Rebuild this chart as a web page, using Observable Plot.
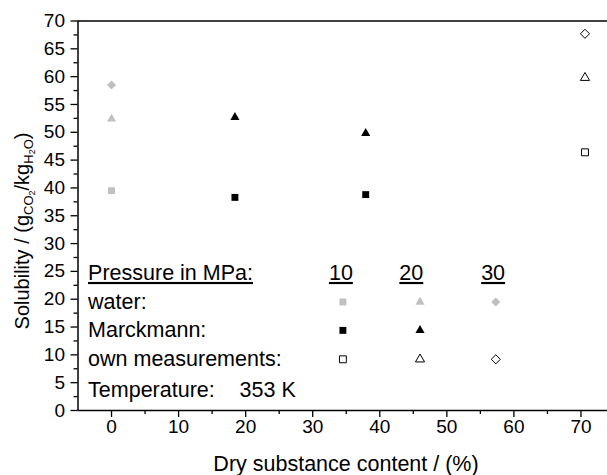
<!DOCTYPE html>
<html><head><meta charset="utf-8">
<script src="https://cdn.jsdelivr.net/npm/d3@7"></script>
<script src="https://cdn.jsdelivr.net/npm/@observablehq/plot@0.6"></script>
<style>
body{margin:0;background:#fff}
svg{font-family:"Liberation Sans",Arial,sans-serif}
</style>
</head><body><div id="chart"></div>
<script>
// ---- data ----
const pressures = [10, 20, 30];
const pressureSymbols = ["square", "triangle", "diamond2"];
const waterX = [0, 0, 0];
const waterP = [10, 20, 30];
const waterY = [39.5, 52.4, 58.5];
const marckmannX = [18.4, 37.9, 18.4, 37.9];
const marckmannP = [10, 10, 20, 20];
const marckmannY = [38.3, 38.8, 52.7, 49.8];
const ownX = [70.6, 70.6, 70.6];
const ownP = [10, 20, 30];
const ownY = [46.4, 59.8, 67.7];

const xMajor = [0, 10, 20, 30, 40, 50, 60, 70];
const xMinor = [5, 15, 25, 35, 45, 55, 65];
const yMajor = [0, 5, 10, 15, 20, 25, 30, 35, 40, 45, 50, 55, 60, 65, 70];
const yMinor = [2.5, 7.5, 12.5, 17.5, 22.5, 27.5, 32.5, 37.5, 42.5, 47.5, 52.5, 57.5, 62.5, 67.5];

// legend (inside plot, in data units)
const legendHeader = "Pressure in MPa:";
const legendHeaderY = 24.7;
const legendLabelX = -3.5;
const legendColHeads = ["10", "20", "30"];
const legendColHeadX = [34.2, 44.7, 56.9];
const legendColX = [34.5, 46, 57.3];
const legendRows = ["water:", "Marckmann:", "own measurements:"];
const legendRowY = [19.5, 14.4, 9.2];
const legendRowPressures = [[10, 20, 30], [10, 20], [10, 20, 30]];
const tempLabel = "Temperature:";
const tempValue = "353 K";
const tempY = 3.7;
const tempValueX = 19.1;

const xLabel = "Dry substance content / (%)";

// ---- styles ----
const symR = {square: 3.9, triangle: 3.4, diamond2: 4.1};
const seriesStyle = [
  {fill: "#c0c0c0", stroke: "none", strokeWidth: 0},
  {fill: "black", stroke: "none", strokeWidth: 0},
  {fill: "white", stroke: "black", strokeWidth: 1}
];

function seriesDots(xs, ys, ps, style) {
  return pressures.map((p, k) => {
    const data = xs.map((x, i) => ({x, y: ys[i], p: ps[i]})).filter(d => d.p === p);
    return Plot.dot(data, {x: "x", y: "y", symbol: pressureSymbols[k], r: symR[pressureSymbols[k]], ...style});
  });
}

function legendDots() {
  const marks = [];
  legendRows.forEach((row, j) => {
    pressures.forEach((p, k) => {
      if (!legendRowPressures[j].includes(p)) return;
      marks.push(Plot.dot([{x: legendColX[k], y: legendRowY[j]}], {x: "x", y: "y", symbol: pressureSymbols[k], r: symR[pressureSymbols[k]], ...seriesStyle[j]}));
    });
  });
  return marks;
}

const textOpts = {fontSize: 21.5, fill: "black"};

const chart = Plot.plot({
  width: 607,
  height: 475,
  marginLeft: 77.5,
  marginRight: 0,
  marginTop: 20.5,
  marginBottom: 65,
  x: {domain: [-5, 75], range: [77.5, 614]},
  y: {domain: [0, 70], range: [410, 20.5]},
  style: {fontFamily: "'Liberation Sans', Arial, sans-serif", fontSize: "19px", color: "black", background: "white", overflow: "hidden"},
  marks: [
    Plot.axisX(xMajor, {tickSize: 7, tickPadding: 2, strokeWidth: 1.3, label: null}),
    Plot.axisX(xMinor, {tickSize: 4, tickFormat: () => "", strokeWidth: 1.3, label: null}),
    Plot.axisY(yMajor, {tickSize: 7, tickPadding: 6, strokeWidth: 1.3, label: null}),
    Plot.axisY(yMinor, {tickSize: 4, tickFormat: () => "", strokeWidth: 1.3, label: null}),
    Plot.ruleX([-5], {stroke: "black", strokeWidth: 1.5}),
    Plot.ruleY([0], {stroke: "black", strokeWidth: 1.5}),
    Plot.ruleY([70], {stroke: "black", strokeWidth: 1.5}),
    ...seriesDots(waterX, waterY, waterP, seriesStyle[0]),
    ...seriesDots(marckmannX, marckmannY, marckmannP, seriesStyle[1]),
    ...seriesDots(ownX, ownY, ownP, seriesStyle[2]),
    Plot.text([legendHeader], {x: legendLabelX, y: legendHeaderY, text: d => d, textAnchor: "start", ...textOpts}),
    Plot.text(legendColHeads, {x: (d, i) => legendColHeadX[i], y: legendHeaderY, text: d => d, ...textOpts}),
    Plot.text(legendRows, {x: legendLabelX, y: (d, i) => legendRowY[i], text: d => d, textAnchor: "start", ...textOpts}),
    Plot.text([tempLabel], {x: legendLabelX, y: tempY, text: d => d, textAnchor: "start", ...textOpts}),
    Plot.text([tempValue], {x: tempValueX, y: tempY, text: d => d, textAnchor: "start", ...textOpts}),
    ...legendDots()
  ]
});

document.getElementById("chart").appendChild(chart);

const svg = d3.select(chart);
const underlined = new Set([legendHeader, ...legendColHeads]);
svg.selectAll("text").filter(function() {
  return this.closest("g[aria-label='text']") && underlined.has(this.textContent);
}).style("text-decoration", "underline");

// x-axis title
svg.append("text")
  .attr("x", 346).attr("y", 471)
  .attr("text-anchor", "middle")
  .attr("font-size", 21.5)
  .attr("fill", "black")
  .text(xLabel);

// y-axis title with subscripts
const yl = svg.append("text")
  .attr("transform", "translate(28.5,231) rotate(-90)")
  .attr("text-anchor", "middle")
  .attr("font-size", 20)
  .attr("fill", "black");
yl.append("tspan").text("Solubility / (g");
yl.append("tspan").attr("font-size", 13).attr("dy", 4).text("CO");
yl.append("tspan").attr("font-size", 9).attr("dy", 2).text("2");
yl.append("tspan").attr("font-size", 20).attr("dy", -6).text("/kg");
yl.append("tspan").attr("font-size", 13).attr("dy", 4).text("H");
yl.append("tspan").attr("font-size", 9).attr("dy", 2).text("2");
yl.append("tspan").attr("font-size", 13).attr("dy", -2).text("O");
yl.append("tspan").attr("font-size", 20).attr("dy", -4).text(")");
</script>
</body></html>
